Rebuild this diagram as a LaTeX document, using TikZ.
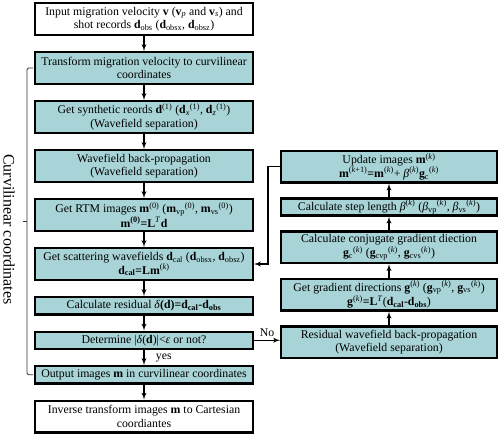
\documentclass[tikz,border=0pt]{standalone}
\usepackage{fontspec}
\setmainfont{Liberation Serif}
\usepackage{xcolor}
\usepackage{tikz}
\usetikzlibrary {positioning}
\usetikzlibrary{arrows}
\usetikzlibrary{calc}
\definecolor{boxteal}{RGB}{168,212,215}
\tikzset{arrow/.style = {->,> = latex',line width=1.3pt}}

\begin{document}
\begin{tikzpicture}[node distance=15pt,
  font=\fontsize{11.8}{13.6}\selectfont,
  flow box/.style={draw,line width=2.4pt,fill=boxteal,align=center,inner xsep=3pt,inner ysep=1.5pt},
  left box/.style={flow box,minimum width=217.6pt},
  right box/.style={flow box,minimum width=215.6pt},
  two/.style={minimum height=31.6pt},
  one/.style={minimum height=17.1pt},
  brace/.style={line width=0.9pt,black!80,rounded corners=1.5pt}]
  \useasboundingbox (0,0) rectangle (500pt,-439pt);

  % main column
  \node[left box,two,fill=white] (input) at (144pt,-19pt) {Input migration velocity \textbf{v} (\textbf{v}\textsubscript{\textit{p}} and \textbf{v}\textsubscript{\textit{s}}) and\\ shot records \textbf{d}\textsubscript{obs} (\textbf{d}\textsubscript{obsx}, \textbf{d}\textsubscript{obsz})};
  \node[left box,two] (trans) [below=of input] {Transform migration velocity to curvilinear\\ coordinates};
  \node[left box,two] (synth) [below=of trans] {Get synthetic reords \textbf{d}\textsuperscript{(1)} (\textbf{d}\textsubscript{\textit{x}}\textsuperscript{(1)}, \textbf{d}\textsubscript{\textit{z}}\textsuperscript{(1)})\\ (Wavefield separation)};
  \node[left box,two] (backprop) [below=of synth] {Wavefield back-propagation\\ (Wavefield separation)};
  \node[left box,two] (rtm) [below=of backprop] {Get RTM images \textbf{m}\textsuperscript{(0)} (\textbf{m}\textsubscript{vp}\textsuperscript{(0)}, \textbf{m}\textsubscript{vs}\textsuperscript{(0)})\\ \textbf{m\textsuperscript{(0)}=L}\textsuperscript{\textit{T}}\textbf{d}};
  \node[left box,two] (scat) [below=of rtm] {Get scattering wavefields \textbf{d}\textsubscript{cal} (\textbf{d}\textsubscript{obsx}, \textbf{d}\textsubscript{obsz})\\ \textbf{d\textsubscript{cal}=Lm}\textsuperscript{(\textit{k})}};
  \node[left box,one] (resid) [below=of scat] {Calculate residual \textit{δ}\textbf{(d)=d\textsubscript{cal}-d\textsubscript{obs}}};
  \node[left box,one] (determ) [below=of resid] {Determine |\textit{δ}(\textbf{d})|<\textit{ε} or not?};
  \node[left box,one] (output) [below=of determ] {Output images \textbf{m} in curvilinear coordinates};
  \node[left box,two,fill=white] (inverse) [below=of output] {Inverse transform images \textbf{m} to Cartesian\\ coordiantes};

  % iteration column
  \node[right box,two] (resback) [right=26pt of determ,yshift=-2pt] {Residual wavefield back-propagation\\ (Wavefield separation)};
  \node[right box,two] (grad) [above=13.5pt of resback] {Get gradient directions \textbf{g}\textsuperscript{(\textit{k})} (\textbf{g}\textsubscript{vp}\textsuperscript{(\textit{k})}, \textbf{g}\textsubscript{vs}\textsuperscript{(\textit{k})})\\ \textbf{g}\textsuperscript{(\textit{k})}\textbf{=L}\textsuperscript{\textit{T}}(\textbf{d\textsubscript{cal}-d\textsubscript{obs}})};
  \node[right box,two] (conj) [above=13.5pt of grad] {Calculate conjugate gradient diection\\ \textbf{g}\textsubscript{c}\textsuperscript{(\textit{k})} (\textbf{g}\textsubscript{cvp}\textsuperscript{(\textit{k})}, \textbf{g}\textsubscript{cvs}\textsuperscript{(\textit{k})})};
  \node[right box,one] (steplen) [above=13.5pt of conj] {Calculate step length \textit{β}\textsuperscript{(\textit{k})} (\textit{β}\textsubscript{vp}\textsuperscript{(\textit{k})}, \textit{β}\textsubscript{vs}\textsuperscript{(\textit{k})})};
  \node[right box,two] (update) [above=13.5pt of steplen] {Update images \textbf{m}\textsuperscript{(\textit{k})}\\ \textbf{m}\textsuperscript{(\textit{k}+1)}\textbf{=m}\textsuperscript{(\textit{k})}+ \textit{β}\textsuperscript{(\textit{k})}\textbf{g}\textsubscript{c}\textsuperscript{(\textit{k})}};

  \path[arrow] (input) edge (trans);
  \path[arrow] (trans) edge (synth);
  \path[arrow] (synth) edge (backprop);
  \path[arrow] (backprop) edge (rtm);
  \path[arrow] (rtm) edge (scat);
  \path[arrow] (scat) edge (resid);
  \path[arrow] (resid) edge (determ);
  \draw[arrow] (determ) -- node[right=8pt] {yes} (output);
  \path[arrow] (output) edge (inverse);

  \draw[arrow] (determ.east) -- node[above] {No} (determ.east -| resback.west);
  \path[arrow] (resback) edge (grad);
  \path[arrow] (grad) edge (conj);
  \path[arrow] (conj) edge (steplen);
  \path[arrow] (steplen) edge (update);
  \draw[arrow] (update.west) -- ++(-12pt,0) |- (scat.east);

  % bracket
  \draw[brace] ([xshift=-1pt]trans.west) -- ++(-6pt,0) |- ([xshift=-1pt]output.west);
  \coordinate (brmid) at ($([xshift=-7pt]trans.west)!0.5!([xshift=-7pt]output.west)$);
  \draw[brace] (brmid) -- ++(-4pt,0);
  \node[rotate=-90,font=\fontsize{16}{18}\selectfont] (curv) at ([xshift=-18pt,yshift=-8pt]brmid) {Curvilinear coordinates};
\end{tikzpicture}
\end{document}
